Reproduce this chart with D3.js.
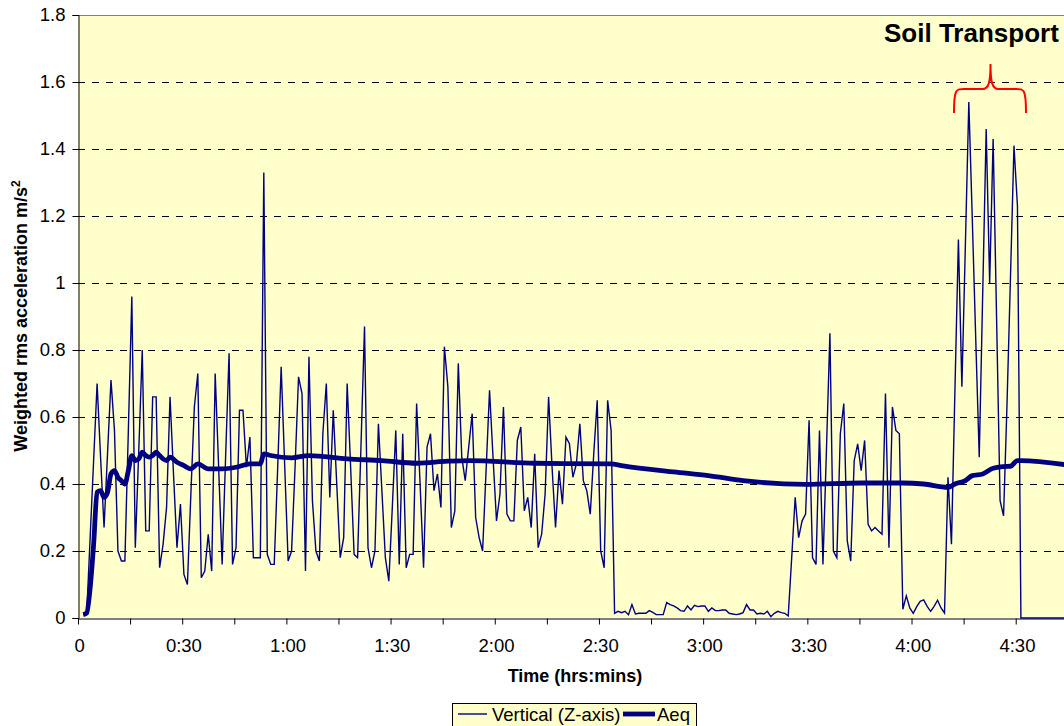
<!DOCTYPE html>
<html>
<head>
<meta charset="utf-8">
<script src="https://cdn.jsdelivr.net/npm/d3@7"></script>
<style>
  body { margin: 0; background: #ffffff; }
  svg { display: block; font-family: Arial, "Liberation Sans", sans-serif; }
</style>
</head>
<body>
<svg id="chart" width="1064" height="726"></svg>
<script>
// Weighted rms vertical acceleration, one reading per minute, starting at minute 1
const verticalZ = [
  0.01, 0.01, 0.24, 0.47, 0.70, 0.48, 0.27, 0.49, 0.71, 0.56,
  0.20, 0.17, 0.17, 0.56, 0.96, 0.21, 0.50, 0.80, 0.26, 0.26,
  0.66, 0.66, 0.15, 0.22, 0.33, 0.66, 0.43, 0.21, 0.34, 0.13,
  0.10, 0.37, 0.63, 0.73, 0.12, 0.14, 0.25, 0.14, 0.73, 0.45,
  0.16, 0.48, 0.79, 0.16, 0.21, 0.62, 0.62, 0.45, 0.54, 0.18,
  0.18, 0.18, 1.33, 0.19, 0.16, 0.16, 0.45, 0.75, 0.46, 0.17,
  0.20, 0.45, 0.72, 0.67, 0.14, 0.78, 0.35, 0.20, 0.17, 0.55,
  0.70, 0.36, 0.62, 0.40, 0.18, 0.24, 0.70, 0.45, 0.19, 0.18,
  0.52, 0.87, 0.21, 0.15, 0.20, 0.58, 0.38, 0.18, 0.11, 0.33,
  0.56, 0.16, 0.55, 0.15, 0.19, 0.19, 0.64, 0.40, 0.15, 0.51,
  0.55, 0.38, 0.43, 0.33, 0.81, 0.69, 0.27, 0.32, 0.76, 0.48,
  0.41, 0.51, 0.61, 0.30, 0.24, 0.20, 0.44, 0.68, 0.48, 0.29,
  0.37, 0.63, 0.31, 0.29, 0.29, 0.53, 0.57, 0.32, 0.36, 0.27,
  0.49, 0.21, 0.25, 0.37, 0.66, 0.45, 0.27, 0.44, 0.34, 0.54,
  0.52, 0.42, 0.46, 0.58, 0.41, 0.38, 0.31, 0.49, 0.65, 0.20,
  0.15, 0.65, 0.56, 0.014, 0.02, 0.016, 0.02, 0.01, 0.04, 0.012,
  0.014, 0.014, 0.014, 0.022, 0.017, 0.01, 0.01, 0.01, 0.046, 0.04,
  0.036, 0.03, 0.022, 0.02, 0.036, 0.024, 0.038, 0.034, 0.036, 0.036,
  0.02, 0.03, 0.022, 0.022, 0.024, 0.024, 0.014, 0.012, 0.01, 0.012,
  0.016, 0.04, 0.024, 0.024, 0.012, 0.014, 0.012, 0.02, 0.004, 0.014,
  0.02, 0.016, 0.014, 0.006, 0.18, 0.36, 0.24, 0.29, 0.31, 0.59,
  0.18, 0.16, 0.56, 0.16, 0.50, 0.85, 0.20, 0.18, 0.55, 0.64,
  0.23, 0.17, 0.47, 0.52, 0.44, 0.53, 0.28, 0.26, 0.27, 0.26,
  0.25, 0.67, 0.21, 0.63, 0.56, 0.55, 0.026, 0.066, 0.03, 0.014,
  0.034, 0.05, 0.054, 0.035, 0.02, 0.035, 0.053, 0.03, 0.015, 0.42,
  0.22, 0.68, 1.13, 0.69, 1.11, 1.54, 1.19, 0.83, 0.48, 0.97,
  1.46, 1.00, 1.43, 0.89, 0.35, 0.305, 0.64, 1.02, 1.41, 1.23,
  0, 0, 0, 0, 0, 0, 0, 0, 0, 0,
  0, 0, 0, 0, 0
];
const firstMinute = 1;

// Running equivalent level (Aeq), read at selected minutes
const aeqMinutes = [
  1, 2, 3, 4, 5, 6, 7, 8, 9, 10,
  11, 12, 13, 14, 15, 16, 17, 18, 19, 20,
  21, 22, 23, 24, 25, 26, 28, 30, 32, 34,
  37, 41, 45, 49, 52, 53, 55, 61, 66, 77,
  87, 97, 106, 112, 131, 153, 156, 171, 181, 191,
  209, 225, 237, 243, 250, 252, 255, 257, 260, 263,
  266, 268, 270, 271, 285
];
const aeqValues = [
  0.01, 0.015, 0.09, 0.22, 0.376, 0.38, 0.36, 0.375, 0.43, 0.44,
  0.42, 0.41, 0.40, 0.44, 0.485, 0.47, 0.475, 0.495, 0.485, 0.48,
  0.485, 0.495, 0.485, 0.475, 0.47, 0.48, 0.465, 0.455, 0.445, 0.46,
  0.445, 0.445, 0.45, 0.46, 0.46, 0.49, 0.485, 0.478, 0.485, 0.475,
  0.47, 0.462, 0.468, 0.47, 0.462, 0.46, 0.455, 0.436, 0.425, 0.41,
  0.399, 0.403, 0.403, 0.40, 0.39, 0.40, 0.41, 0.425, 0.43, 0.447,
  0.452, 0.453, 0.47, 0.47, 0.456
];

const yTicks = [0, 0.2, 0.4, 0.6, 0.8, 1, 1.2, 1.4, 1.6, 1.8];
const xTickMinutes = d3.range(0, 286, 15);
const xLabelMinutes = [0, 30, 60, 90, 120, 150, 180, 210, 240, 270];
const xLabels = ["0", "0:30", "1:00", "1:30", "2:00", "2:30", "3:00", "3:30", "4:00", "4:30"];

const seriesNames = ["Vertical (Z-axis)", "Aeq"];
const annotation = "Soil Transport";

// ---- layout ----
const plot = { left: 78, top: 15, bottom: 618, minuteWidth: 3.473, minutes: 290 };
const navy = "#000080";

const svg = d3.select("#chart");

const x = d3.scaleLinear()
  .domain([0, plot.minutes])
  .range([plot.left, plot.left + plot.minutes * plot.minuteWidth]);
const y = d3.scaleLinear().domain([0, 1.8]).range([plot.bottom, plot.top]);

// each reading sits in the middle of its one-minute slot
const cx = m => x(m + 0.5);

// plot background
svg.append("rect")
  .attr("x", plot.left).attr("y", plot.top)
  .attr("width", x.range()[1] - plot.left)
  .attr("height", plot.bottom - plot.top)
  .attr("fill", "#FFFFCC");

// top border
svg.append("line")
  .attr("x1", plot.left).attr("x2", x.range()[1])
  .attr("y1", plot.top + 0.5).attr("y2", plot.top + 0.5)
  .attr("stroke", "#808080").attr("stroke-width", 1);

// dashed gridlines
svg.append("g")
  .selectAll("line")
  .data(yTicks.filter(v => v > 0 && v < 1.8))
  .join("line")
  .attr("x1", plot.left).attr("x2", x.range()[1])
  .attr("y1", d => Math.round(y(d)) + 0.5).attr("y2", d => Math.round(y(d)) + 0.5)
  .attr("stroke", "#000").attr("stroke-width", 1)
  .attr("stroke-dasharray", "7,7");

// y axis
const yAxis = d3.axisLeft(y)
  .tickValues(yTicks)
  .tickFormat(d => d3.format("~g")(d))
  .tickSize(6)
  .tickPadding(7);
const gy = svg.append("g")
  .attr("transform", `translate(${plot.left + 0.5},0)`)
  .call(yAxis);
gy.select(".domain").attr("stroke", "#000");
gy.selectAll(".tick line").attr("stroke", "#000");
gy.selectAll(".tick text")
  .attr("font-size", 18.5)
  .attr("font-family", "Arial, 'Liberation Sans', sans-serif")
  .attr("fill", "#000");

// x axis: tick marks every 15 min, labels every 30 min
const xAxis = d3.axisBottom(x)
  .tickValues(xTickMinutes)
  .tickFormat("")
  .tickSize(6)
  .tickSizeOuter(0);
const gx = svg.append("g")
  .attr("transform", `translate(0,${plot.bottom + 0.5})`)
  .call(xAxis);
gx.select(".domain").attr("stroke", "#000");
gx.selectAll(".tick line").attr("stroke", "#000");

svg.append("g")
  .selectAll("text")
  .data(xLabelMinutes)
  .join("text")
  .attr("x", d => cx(d))
  .attr("y", 652)
  .attr("text-anchor", "middle")
  .attr("font-size", 18.5)
  .text((d, i) => xLabels[i]);

// axis titles
svg.append("text")
  .attr("x", 575).attr("y", 682)
  .attr("text-anchor", "middle")
  .attr("font-size", 18).attr("font-weight", "bold")
  .text("Time (hrs:mins)");

const yTitle = svg.append("text")
  .attr("transform", "translate(27,316) rotate(-90)")
  .attr("text-anchor", "middle")
  .attr("font-size", 18).attr("font-weight", "bold");
yTitle.append("tspan").text("Weighted rms acceleration m/s");
yTitle.append("tspan").attr("font-size", 12).attr("dy", -7).text("2");

// series
const vertData = verticalZ.map((v, i) => ({ m: firstMinute + i, v }));
const aeqData = aeqMinutes.map((m, i) => ({ m, v: aeqValues[i] }));

svg.append("path")
  .datum(vertData)
  .attr("fill", "none")
  .attr("stroke", navy)
  .attr("stroke-width", 1.4)
  .attr("stroke-linejoin", "miter")
  .attr("d", d3.line().x(d => cx(d.m)).y(d => y(d.v)));

svg.append("path")
  .datum(aeqData)
  .attr("fill", "none")
  .attr("stroke", navy)
  .attr("stroke-width", 4.8)
  .attr("stroke-linejoin", "round")
  .attr("d", d3.line().curve(d3.curveMonotoneX).x(d => cx(d.m)).y(d => y(d.v)));

// annotation and brace
svg.append("text")
  .attr("x", 884).attr("y", 42)
  .attr("font-size", 26).attr("font-weight", "bold")
  .text(annotation);

const braceL = 954, braceR = 1026, braceTip = 990.5, braceTop = 64, braceMid = 89, braceFoot = 113;
const brace = d3.path();
brace.moveTo(braceL, braceFoot);
brace.bezierCurveTo(braceL, braceMid, braceL + 2, braceMid, braceL + 10, braceMid);
brace.lineTo(braceTip - 8, braceMid);
brace.bezierCurveTo(braceTip - 2, braceMid, braceTip, braceMid - 6, braceTip, braceTop);
brace.bezierCurveTo(braceTip, braceMid - 6, braceTip + 2, braceMid, braceTip + 8, braceMid);
brace.lineTo(braceR - 10, braceMid);
brace.bezierCurveTo(braceR - 2, braceMid, braceR, braceMid, braceR, braceFoot);
svg.append("path")
  .attr("d", brace.toString())
  .attr("fill", "none")
  .attr("stroke", "#FF0000")
  .attr("stroke-width", 2);

// legend
const legend = svg.append("g");
legend.append("rect")
  .attr("x", 452.5).attr("y", 703.5)
  .attr("width", 244).attr("height", 30)
  .attr("fill", "#FFFFCC").attr("stroke", "#000").attr("stroke-width", 1);
legend.append("line")
  .attr("x1", 458).attr("x2", 487).attr("y1", 714).attr("y2", 714)
  .attr("stroke", navy).attr("stroke-width", 1.4);
legend.append("text")
  .attr("x", 492).attr("y", 721).attr("font-size", 18.5)
  .text(seriesNames[0]);
legend.append("line")
  .attr("x1", 623).attr("x2", 655).attr("y1", 714).attr("y2", 714)
  .attr("stroke", navy).attr("stroke-width", 4.8);
legend.append("text")
  .attr("x", 657).attr("y", 721).attr("font-size", 18.5)
  .text(seriesNames[1]);
</script>
</body>
</html>
